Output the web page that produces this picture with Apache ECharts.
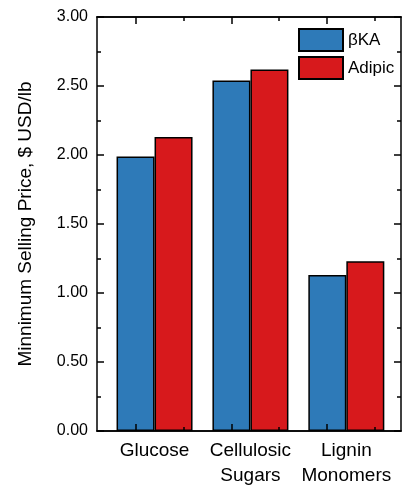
<!DOCTYPE html>
<html>
<head>
<meta charset="utf-8">
<script src="https://cdn.jsdelivr.net/npm/echarts@6/dist/echarts.min.js"></script>
<style>
  html, body { margin: 0; padding: 0; background: #fff; }
  #main { width: 409px; height: 486px; }
</style>
</head>
<body>
<div id="main"></div>
<script>
const categories = ['Glucose', 'Cellulosic\nSugars', 'Lignin\nMonomers'];
const seriesNames = ['\u03b2KA', 'Adipic'];
const bkaPrice = [1.99, 2.54, 1.13];
const adipicPrice = [2.13, 2.62, 1.23];

const FONT = "Arial, 'Liberation Sans', sans-serif";
// Origin-style numeric x axis: blue bar centred on 1, 2, 3, pair centred on +0.2
const groupPos = categories.map((c, i) => i + 1.2);
const majorX = categories.map((c, i) => i + 1);
const minorX = categories.map((c, i) => i + 1.5);

const chartDom = document.getElementById('main');
const myChart = echarts.init(chartDom);

function frameX(position, ticks, len, withLabels) {
    return {
        type: 'value',
        position: position,
        min: 0.6,
        max: 3.77,
        z: 5,
        axisLine: { show: true, onZero: false, lineStyle: { color: '#000', width: 1.5 } },
        axisTick: { show: true, inside: true, length: len, customValues: ticks, lineStyle: { color: '#000', width: 1.5 } },
        axisLabel: withLabels ? {
            show: true,
            customValues: groupPos,
            formatter: (v) => categories[Math.round(v - 1.2)],
            fontFamily: FONT,
            fontSize: 19,
            lineHeight: 25,
            color: '#000',
            margin: 7,
            verticalAlign: 'top'
        } : { show: false },
        splitLine: { show: false }
    };
}

function frameY(position, withLabels) {
    return {
        type: 'value',
        position: position,
        min: 0,
        max: 3,
        interval: 0.5,
        z: 5,
        name: withLabels ? 'Minnimum Selling Price, $ USD/lb' : '',
        nameLocation: 'middle',
        nameGap: 62,
        nameTextStyle: { fontFamily: FONT, fontSize: 19, color: '#000' },
        axisLine: { show: true, lineStyle: { color: '#000', width: 1.5 } },
        axisTick: { show: true, inside: true, length: 7, lineStyle: { color: '#000', width: 1.5 } },
        minorTick: { show: true, splitNumber: 2, length: 4, lineStyle: { color: '#000', width: 1.5 } },
        axisLabel: withLabels ? {
            show: true,
            formatter: (v) => v.toFixed(2),
            fontFamily: FONT,
            fontSize: 16,
            color: '#000',
            margin: 9
        } : { show: false },
        splitLine: { show: false }
    };
}

const option = {
    animation: false,
    backgroundColor: '#fff',
    grid: { left: 97, right: 8, top: 17, bottom: 55, containLabel: false, outerBoundsMode: 'none' },
    legend: {
        orient: 'vertical',
        left: 298,
        top: 28,
        padding: 0,
        icon: 'rect',
        itemWidth: 44,
        itemHeight: 22,
        itemGap: 4,
        textStyle: { fontFamily: FONT, fontSize: 17, color: '#000' },
        data: seriesNames
    },
    xAxis: [
        frameX('bottom', majorX, 7, true),
        frameX('bottom', minorX, 4, false),
        frameX('top', majorX, 7, false),
        frameX('top', minorX, 4, false)
    ],
    yAxis: [frameY('left', true), frameY('right', false)],
    series: [
        {
            name: seriesNames[0],
            type: 'bar',
            xAxisIndex: 0,
            yAxisIndex: 0,
            barWidth: 38,
            barGap: '0%',
            itemStyle: { color: '#2E7AB8', borderColor: '#000', borderWidth: 1.5 },
            data: bkaPrice.map((v, i) => [groupPos[i], v])
        },
        {
            name: seriesNames[1],
            type: 'bar',
            xAxisIndex: 0,
            yAxisIndex: 0,
            barWidth: 38,
            barGap: '0%',
            itemStyle: { color: '#D7191C', borderColor: '#000', borderWidth: 1.5 },
            data: adipicPrice.map((v, i) => [groupPos[i], v])
        }
    ]
};

myChart.setOption(option);
</script>
</body>
</html>
